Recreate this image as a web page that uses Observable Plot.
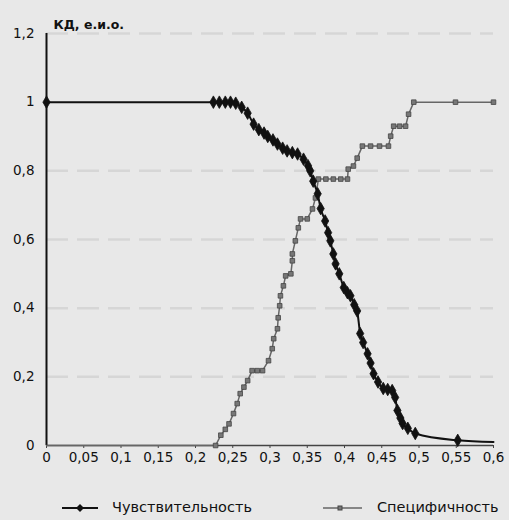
<!DOCTYPE html>
<html>
<head>
<meta charset="utf-8">
<script src="https://cdn.jsdelivr.net/npm/d3@7"></script>
<script src="https://cdn.jsdelivr.net/npm/@observablehq/plot@0.6"></script>
<style>
  html, body { margin: 0; padding: 0; background: #e8e8e8; }
  body { width: 509px; height: 520px; position: relative; overflow: hidden; font-family: "DejaVu Sans", sans-serif; }
  #legend { position: absolute; left: 0; top: 472px; width: 509px; height: 48px; }
  .lg { position: absolute; font-size: 14.5px; color: #111; white-space: nowrap; }
</style>
</head>
<body>
<div id="chart"></div>
<div id="legend">
  <svg width="509" height="48" style="position:absolute;left:0;top:0">
    <line x1="62" x2="98" y1="36" y2="36" stroke="#111" stroke-width="2"/>
    <path d="M80,32 L84,36 L80,40 L76,36 Z" fill="#111"/>
    <line x1="323" x2="362" y1="36" y2="36" stroke="#666" stroke-width="1.5"/>
    <rect x="338" y="34" width="4" height="4" fill="#777" stroke="#444" stroke-width="1"/>
  </svg>
  <div class="lg" style="left:112px;top:27px;">Чувствительность</div>
  <div class="lg" style="left:377px;top:27px;">Специфичность</div>
</div>
<script>
// ---- data ----
const yLabel = "КД, е.и.о.";
const seriesNames = ["Чувствительность", "Специфичность"];
const xTicks = [0, 0.05, 0.1, 0.15, 0.2, 0.25, 0.3, 0.35, 0.4, 0.45, 0.5, 0.55, 0.6];
const yTicks = [0, 0.2, 0.4, 0.6, 0.8, 1, 1.2];
const gridValues = [0.2, 0.4, 0.6, 0.8, 1.2];

const sensX = [0, 0.224, 0.232, 0.24, 0.247, 0.254, 0.262, 0.27, 0.278, 0.285, 0.292, 0.297, 0.304, 0.31, 0.317, 0.323, 0.33, 0.337, 0.345, 0.351, 0.354, 0.358, 0.364, 0.368, 0.374, 0.378, 0.381, 0.385, 0.388, 0.393, 0.399, 0.404, 0.408, 0.413, 0.417, 0.421, 0.425, 0.431, 0.435, 0.439, 0.445, 0.452, 0.458, 0.464, 0.468, 0.471, 0.475, 0.478, 0.485, 0.495, 0.552, 0.6];
const sensY = [1, 1, 1, 1, 1, 0.997, 0.985, 0.968, 0.936, 0.92, 0.91, 0.9, 0.89, 0.878, 0.866, 0.858, 0.853, 0.849, 0.834, 0.815, 0.8, 0.77, 0.733, 0.69, 0.654, 0.62, 0.596, 0.558, 0.529, 0.5, 0.46, 0.445, 0.436, 0.41, 0.392, 0.326, 0.3, 0.267, 0.24, 0.209, 0.185, 0.166, 0.163, 0.16, 0.14, 0.102, 0.08, 0.064, 0.05, 0.035, 0.015, 0.01];

const specX = [0, 0.227, 0.234, 0.24, 0.245, 0.251, 0.256, 0.26, 0.265, 0.27, 0.276, 0.283, 0.29, 0.298, 0.303, 0.305, 0.31, 0.311, 0.313, 0.314, 0.318, 0.321, 0.328, 0.33, 0.33, 0.334, 0.338, 0.341, 0.35, 0.357, 0.361, 0.365, 0.375, 0.385, 0.395, 0.404, 0.405, 0.412, 0.417, 0.424, 0.435, 0.447, 0.459, 0.462, 0.466, 0.474, 0.482, 0.486, 0.493, 0.549, 0.6];
const specY = [0, 0, 0.03, 0.047, 0.063, 0.093, 0.122, 0.151, 0.17, 0.189, 0.218, 0.218, 0.218, 0.247, 0.282, 0.311, 0.34, 0.372, 0.407, 0.436, 0.465, 0.494, 0.5, 0.538, 0.558, 0.596, 0.634, 0.66, 0.66, 0.689, 0.721, 0.776, 0.776, 0.776, 0.776, 0.776, 0.805, 0.814, 0.837, 0.872, 0.872, 0.872, 0.872, 0.901, 0.93, 0.93, 0.93, 0.965, 1, 1, 1];

const sens = sensX.map((x, i) => ({x, y: sensY[i]}));
const spec = specX.map((x, i) => ({x, y: specY[i]}));
const fmt = d => String(d).replace(".", ",");

const chart = Plot.plot({
  width: 509,
  height: 472,
  marginLeft: 46,
  marginRight: 16,
  marginTop: 33,
  marginBottom: 27,
  style: {background: "#e8e8e8", fontFamily: "DejaVu Sans, sans-serif", fontSize: "13.5px", color: "#111"},
  x: {domain: [0, 0.6]},
  y: {domain: [0, 1.2]},
  marks: [
    Plot.ruleY(gridValues, {stroke: "#d6d6d6", strokeWidth: 2.5, strokeDasharray: "22,9"}),
    Plot.axisX({ticks: xTicks, tickFormat: fmt, tickSize: 3, tickPadding: 4, stroke: "#444", label: null}),
    Plot.axisY({ticks: yTicks, tickFormat: fmt, tickSize: 0, tickPadding: 12, label: null}),
    Plot.ruleY([0], {stroke: "#444", strokeWidth: 1.5}),
    Plot.ruleX([0], {y1: 0, y2: 1.2, stroke: "#111", strokeWidth: 2}),
    Plot.line(spec, {x: "x", y: "y", stroke: "#666", strokeWidth: 1.5}),
    Plot.dot(spec.slice(1), {x: "x", y: "y", symbol: "square", r: 2.6, fill: "#777", stroke: "#444", strokeWidth: 0.8}),
    Plot.line(sens, {x: "x", y: "y", stroke: "#111", strokeWidth: 2, curve: "monotone-x"}),
    Plot.dot(sens.slice(0, -1), {x: "x", y: "y", symbol: "diamond", r: 3.8, fill: "#111", stroke: "#111", strokeWidth: 0.8}),
    Plot.text([yLabel], {frameAnchor: "top-left", dx: 7, dy: -13, textAnchor: "start", fontWeight: "bold", fontSize: 12.5})
  ]
});
document.getElementById("chart").appendChild(chart);
</script>
</body>
</html>
